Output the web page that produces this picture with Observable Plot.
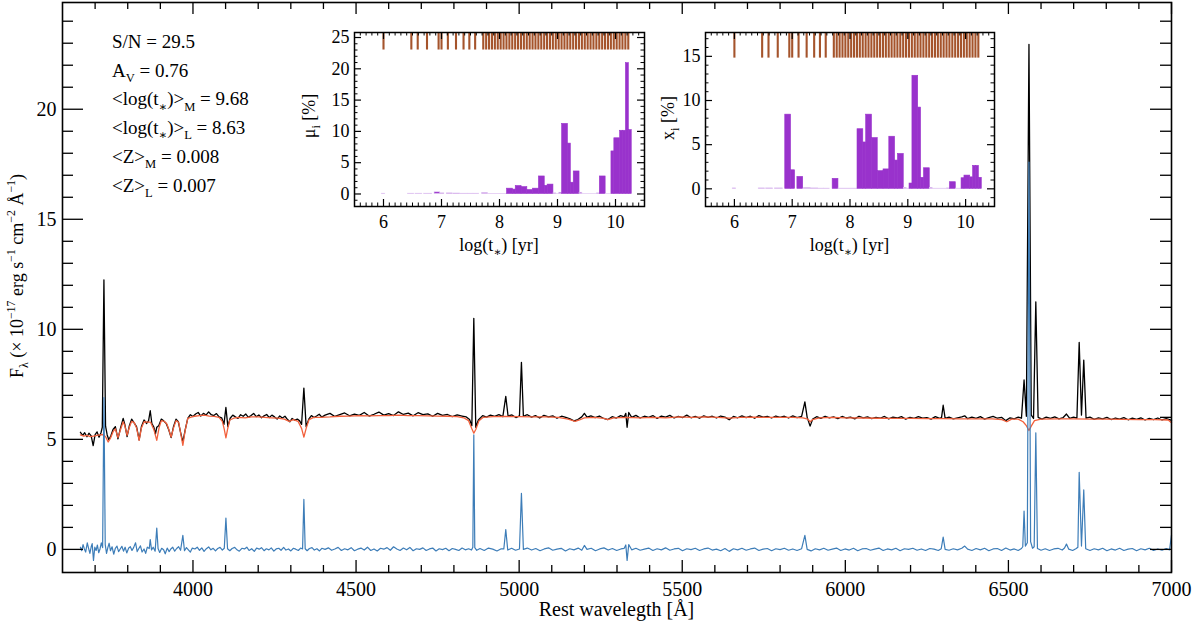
<!DOCTYPE html>
<html>
<head>
<meta charset="utf-8">
<script src="https://cdn.jsdelivr.net/npm/d3@7"></script>
<script src="https://cdn.jsdelivr.net/npm/@observablehq/plot@0.6"></script>
<style>
  body { margin: 0; background: #fff; }
  #chart { position: relative; width: 1200px; height: 625px; }
  #chart svg { position: absolute; overflow: visible; }
</style>
</head>
<body>
<div id="chart"></div>
<script>
// observed spectrum [wavelength (A), flux]
const observed = [
  [3655,5.32],[3662,5.18],[3668,5.30],[3675,5.12],[3681,5.28],[3688,5.16],[3694,4.72],[3700,5.22],[3706,5.34],[3712,5.10],
  [3718,5.30],[3722,5.55],[3727,12.25],[3732,5.60],[3737,5.20],[3742,4.98],[3748,5.15],[3755,5.45],[3762,5.58],[3770,5.02],
  [3778,5.52],[3786,5.95],[3791,5.68],[3798,5.12],[3805,5.62],[3812,5.92],[3820,5.74],[3827,5.58],[3835,4.98],[3842,5.58],
  [3850,5.88],[3858,5.72],[3864,5.85],[3869,6.30],[3874,5.72],[3880,5.56],[3885,5.25],[3889,5.55],[3895,5.62],[3903,5.92],
  [3910,5.84],[3918,5.72],[3926,5.42],[3933,5.08],[3940,5.56],[3948,5.92],[3955,5.80],[3962,5.32],[3969,4.88],[3976,5.42],
  [3984,5.95],[3992,6.12],[4000,6.04],[4008,6.15],[4016,6.22],[4024,6.06],[4032,6.18],[4040,6.10],[4048,6.25],[4056,6.12],
  [4064,6.08],[4072,6.17],[4080,6.02],[4088,5.98],[4095,5.68],[4101,6.45],[4107,5.58],[4114,5.96],[4122,6.10],[4130,6.02],
  [4138,5.95],[4146,6.12],[4154,6.05],[4162,6.15],[4170,6.00],[4178,6.08],[4186,6.18],[4194,6.03],[4202,6.11],[4210,5.98],
  [4218,6.07],[4226,6.13],[4234,5.99],[4242,6.10],[4250,6.02],[4258,5.92],[4266,6.06],[4274,5.97],[4282,6.05],[4290,5.90],
  [4297,5.80],[4304,5.95],[4312,5.87],[4320,5.92],[4327,5.84],[4333,5.68],[4340,7.33],[4347,5.58],[4355,5.92],[4363,6.08],
  [4371,5.99],[4379,6.06],[4387,6.14],[4395,6.01],
  [4405,6.10],[4420,6.18],[4435,6.04],[4450,6.12],[4465,6.20],[4480,6.07],[4495,6.15],[4510,6.09],[4525,6.22],[4540,6.06],
  [4555,6.14],[4570,6.24],[4585,6.10],[4600,6.17],[4615,6.08],[4630,6.25],[4645,6.13],[4660,6.19],[4675,6.07],[4690,6.21],
  [4705,6.12],[4720,6.16],[4735,6.05],[4750,6.18],[4765,6.09],[4780,6.13],[4795,6.03],[4810,6.11],[4825,6.06],[4838,6.02],
  [4848,5.90],[4855,5.62],[4861,10.5],[4867,5.55],[4875,5.88],[4888,6.08],[4900,6.01],[4912,6.10],[4925,6.04],[4938,6.12],
  [4950,6.03],[4959,6.95],[4966,6.06],[4978,6.11],[4990,5.99],[5001,6.07],[5007,8.50],[5013,6.05],[5025,6.12],[5038,6.01],
  [5050,6.08],[5063,5.97],[5076,6.09],[5090,6.02],[5103,6.07],[5116,5.96],[5130,6.05],[5143,6.00],[5156,5.93],[5168,5.84],
  [5180,5.90],[5192,6.02],[5200,6.18],[5208,6.01],[5220,6.07],[5233,5.99],[5246,6.06],[5259,5.95],[5272,5.90],[5285,6.03],
  [5298,5.97],[5311,6.08],[5322,6.02],[5327,6.18],[5331,5.55],[5336,6.22],[5345,6.00],[5358,6.09],[5371,5.97],[5384,6.05],
  [5397,6.00],[5410,6.08],[5423,5.95],[5436,6.06],[5449,6.01],[5462,6.09],[5475,5.97],[5488,6.04],[5501,5.99],[5514,6.10],
  [5527,5.98],[5540,6.04],[5553,5.96],[5566,6.07],[5579,6.00],[5592,6.05],[5605,5.97],[5618,6.06],[5631,6.01],[5644,5.89],
  [5657,6.04],[5670,5.98],[5683,6.07],[5696,5.99],[5709,6.05],[5722,5.96],[5735,6.08],[5748,6.01],[5761,6.04],[5774,5.97],
  [5787,6.06],[5800,6.00],[5813,6.05],[5826,5.97],[5839,6.07],[5852,5.99],[5866,6.04],[5876,6.70],[5883,6.00],[5892,5.60],
  [5900,5.92],[5912,6.03],[5925,5.95],[5938,6.05],[5951,5.98],[5964,6.02],[5977,5.94],[5990,6.04],[6003,5.97],[6016,6.01],
  [6029,5.93],[6042,6.05],[6055,5.98],[6068,6.02],[6081,5.94],[6094,6.00],[6107,5.96],[6120,6.04],[6133,5.93],[6146,6.01],
  [6159,5.97],[6172,6.03],[6185,5.92],[6198,6.00],[6211,5.95],[6224,6.03],[6237,5.96],[6250,5.99],[6263,5.92],[6276,6.03],
  [6289,5.95],[6295,5.99],[6300,6.55],[6306,5.95],[6318,6.01],[6331,5.93],[6344,5.98],[6357,6.02],[6366,6.07],[6375,5.94],
  [6388,6.01],[6401,5.95],[6414,6.03],[6427,5.92],[6440,5.99],[6453,6.04],[6466,5.96],[6479,6.00],[6492,5.85],[6505,5.98],
  [6518,5.93],[6530,6.01],[6540,5.96],[6548,7.70],[6555,6.05],[6563,22.95],[6570,6.10],[6577,5.95],[6584,11.25],[6591,6.00],
  [6603,5.92],[6616,6.01],[6629,5.95],[6642,6.02],[6655,5.93],[6668,5.99],[6678,6.15],[6688,5.95],[6700,6.01],[6710,5.97],
  [6717,9.40],[6724,6.10],[6731,8.60],[6738,5.96],[6750,6.01],[6763,5.91],[6776,5.98],[6789,5.93],[6802,6.00],[6815,5.90],
  [6828,5.97],[6841,5.92],[6854,5.99],[6867,5.89],[6880,5.96],[6893,5.91],[6906,5.98],[6919,5.88],[6932,5.95],[6945,5.90],
  [6958,5.97],[6971,5.88],[6984,5.94],[6994,5.90],[7000,5.86]
];

// synthetic (model) spectrum
const model = [
  [3655,5.20],[3665,5.15],[3675,5.18],[3685,5.12],[3695,5.15],[3705,5.18],[3715,5.20],[3725,5.22],[3733,5.10],[3740,4.88],
  [3747,5.05],[3755,5.35],[3762,5.48],[3770,5.08],[3778,5.45],[3786,5.80],[3791,5.62],[3798,5.18],[3805,5.55],[3812,5.82],
  [3820,5.76],[3827,5.52],[3835,4.95],[3842,5.52],[3850,5.80],[3860,5.78],[3870,5.78],[3880,5.45],[3889,4.95],[3896,5.52],
  [3903,5.85],[3912,5.82],[3920,5.70],[3927,5.40],[3933,5.10],[3940,5.50],[3948,5.85],[3956,5.78],[3962,5.30],[3969,4.73],
  [3976,5.40],[3984,5.95],[3992,6.00],[4005,6.05],[4020,6.08],[4035,6.10],[4050,6.06],[4065,6.04],[4080,6.00],[4090,5.82],
  [4096,5.45],[4101,5.07],[4106,5.45],[4113,5.88],[4125,5.96],[4140,6.00],[4160,5.98],[4180,6.02],[4200,6.02],[4220,6.00],
  [4240,5.98],[4260,5.96],[4280,5.92],[4295,5.82],[4308,5.90],[4322,5.82],[4333,5.50],[4340,5.10],[4347,5.50],[4356,5.90],
  [4370,6.00],[4390,6.00],[4420,6.02],[4450,6.05],[4480,6.06],[4510,6.08],[4540,6.07],[4570,6.08],[4600,6.08],[4630,6.10],
  [4660,6.08],[4690,6.08],[4720,6.07],[4750,6.06],[4780,6.05],[4810,6.03],[4830,5.98],[4845,5.85],[4855,5.48],[4861,5.28],
  [4867,5.45],[4877,5.85],[4890,6.00],[4920,6.03],[4960,6.04],[5000,6.03],[5040,6.02],[5080,6.02],[5120,6.00],[5150,5.92],
  [5172,5.82],[5185,5.88],[5200,5.98],[5230,6.00],[5260,5.95],[5272,5.90],[5290,5.98],[5330,6.00],[5370,5.98],[5410,6.00],
  [5450,5.98],[5490,6.02],[5530,6.00],[5570,6.02],[5610,6.00],[5645,5.96],[5680,6.00],[5720,6.01],[5760,6.00],[5800,6.00],
  [5840,6.00],[5870,5.98],[5885,5.92],[5892,5.80],[5900,5.90],[5920,5.98],[5960,6.00],[6000,5.98],[6050,5.97],[6100,5.96],
  [6150,5.95],[6200,5.95],[6250,5.94],[6300,5.94],[6350,5.93],[6400,5.93],[6450,5.93],[6480,5.90],[6495,5.80],[6510,5.92],
  [6530,5.92],[6545,5.80],[6555,5.62],[6563,5.40],[6570,5.60],[6580,5.85],[6600,5.92],[6650,5.93],[6700,5.93],[6750,5.92],
  [6800,5.92],[6850,5.91],[6900,5.90],[6950,5.90],[6990,5.88],[7000,5.75]
];

// observed minus model (pure emission)
const emission = [
  [3655,0.10],[3659,-0.06],[3663,0.22],[3667,0.02],[3671,-0.12],[3676,0.30],[3680,0.05],[3684,-0.18],[3688,0.12],[3691,0.26],
  [3695,-0.50],[3699,0.10],[3703,-0.05],[3707,0.20],[3711,-0.15],[3715,0.02],[3719,0.30],[3723,0.08],[3727,6.90],[3731,0.22],
  [3735,-0.18],[3739,0.08],[3743,0.28],[3747,-0.06],[3752,0.12],[3757,-0.22],[3762,0.05],[3767,0.15],[3772,-0.10],[3777,0.02],
  [3782,0.14],[3787,-0.08],[3792,0.10],[3797,-0.16],[3803,0.06],[3808,0.12],[3813,-0.05],[3818,0.08],[3824,0.30],[3829,-0.10],
  [3834,0.04],[3839,0.16],[3844,-0.12],[3850,0.02],[3855,-0.18],[3860,0.10],[3866,0.04],[3869,0.45],[3873,-0.02],[3878,0.10],
  [3884,-0.08],[3889,0.97],[3893,0.04],[3898,-0.14],[3904,0.05],[3910,-0.02],[3915,-0.20],[3921,0.06],[3927,-0.10],[3932,0.02],
  [3938,0.10],[3944,-0.08],[3950,0.04],[3956,0.12],[3962,-0.04],[3969,0.64],[3974,-0.06],[3980,0.08],[3986,-0.02],[3992,-0.12],
  [3998,0.06],[4006,0.02],[4013,0.10],[4020,-0.04],[4027,0.07],[4034,-0.09],[4041,0.03],[4048,0.11],[4055,-0.02],[4062,0.05],
  [4069,-0.07],[4076,0.04],[4083,0.09],[4090,-0.03],[4096,0.05],[4101,1.42],[4106,0.03],[4113,-0.06],[4120,0.04],[4128,0.09],
  [4135,-0.02],[4142,-0.08],[4150,0.05],[4158,0.02],[4165,0.10],[4172,-0.05],[4180,0.03],[4188,-0.09],[4195,0.06],[4203,0.01],
  [4210,0.08],[4218,-0.06],[4225,0.03],[4233,-0.02],[4240,0.07],[4248,-0.08],[4255,0.02],[4263,0.05],[4270,-0.04],[4278,0.09],
  [4285,-0.03],[4293,0.02],[4300,-0.07],[4308,0.05],[4315,0.01],[4323,-0.05],[4330,0.06],[4336,0.02],[4340,2.27],[4344,0.03],
  [4350,-0.06],[4357,0.04],[4365,0.08],[4372,-0.03],[4380,0.03],[4388,-0.07],[4395,0.05],
  [4405,0.00],[4415,0.07],[4425,-0.04],[4435,0.02],[4445,0.09],[4455,-0.05],[4465,0.03],[4475,-0.02],[4485,0.08],[4495,-0.06],
  [4505,0.01],[4515,0.06],[4525,-0.03],[4535,0.10],[4545,-0.05],[4555,0.02],[4565,-0.07],[4575,0.05],[4585,0.01],[4595,0.08],
  [4605,-0.04],[4615,0.12],[4625,0.02],[4635,-0.05],[4645,0.06],[4655,-0.02],[4665,0.09],[4675,-0.06],[4685,0.03],[4695,0.00],
  [4705,0.07],[4715,-0.05],[4725,0.02],[4735,0.06],[4745,-0.07],[4755,0.03],[4765,-0.01],[4775,0.05],[4785,-0.06],[4795,0.04],
  [4805,0.00],[4815,-0.05],[4825,0.06],[4835,-0.02],[4845,0.03],[4854,-0.03],[4858,0.10],[4861,5.20],[4864,0.08],[4870,-0.04],
  [4880,0.04],[4893,-0.05],[4906,0.06],[4919,0.01],[4932,-0.07],[4945,0.03],[4953,0.02],[4959,0.90],[4965,-0.03],[4977,0.05],
  [4989,-0.04],[5001,0.02],[5007,2.55],[5013,0.00],[5025,0.06],[5038,-0.03],[5051,0.04],[5064,-0.06],[5077,0.02],[5090,0.07],
  [5103,-0.04],[5116,0.01],[5129,0.05],[5142,-0.07],[5155,0.03],[5168,-0.02],[5181,0.06],[5192,-0.04],[5200,0.18],[5208,0.00],
  [5221,0.05],[5234,-0.06],[5247,0.02],[5260,0.07],[5273,-0.03],[5286,0.04],[5299,-0.05],[5312,0.02],[5322,0.05],[5327,0.20],
  [5331,-0.50],[5336,0.22],[5345,-0.02],[5358,0.05],[5371,-0.04],[5384,0.01],[5397,0.06],[5410,-0.05],[5423,0.03],[5436,-0.02],
  [5449,0.07],[5462,-0.04],[5475,0.02],[5488,0.05],[5501,-0.06],[5514,0.03],[5527,-0.01],[5540,0.05],[5553,-0.05],[5566,0.02],
  [5579,0.06],[5592,-0.03],[5605,0.01],[5618,-0.06],[5631,0.04],[5644,-0.09],[5657,0.03],[5670,-0.02],[5683,0.05],[5696,-0.04],
  [5709,0.02],[5722,0.06],[5735,-0.05],[5748,0.01],[5761,0.04],[5774,-0.06],[5787,0.03],[5800,-0.01],[5813,0.05],[5826,-0.04],
  [5839,0.02],[5852,-0.05],[5866,0.03],[5876,0.64],[5883,0.00],[5895,-0.07],[5908,0.03],[5921,-0.02],[5934,0.05],[5947,-0.04],
  [5960,0.01],[5973,0.06],[5986,-0.05],[5999,0.02],[6012,-0.03],[6025,0.05],[6038,-0.06],[6051,0.02],[6064,0.04],[6077,-0.04],
  [6090,0.01],[6103,0.06],[6116,-0.05],[6129,0.02],[6142,-0.02],[6155,0.05],[6168,-0.06],[6181,0.03],[6194,0.00],[6207,0.05],
  [6220,-0.04],[6233,0.02],[6246,-0.05],[6259,0.04],[6272,0.01],[6285,-0.05],[6294,0.03],[6300,0.56],[6306,0.00],[6318,-0.04],
  [6331,0.03],[6344,-0.02],[6357,0.05],[6366,0.15],[6375,0.01],[6388,-0.05],[6401,0.04],[6414,-0.02],[6427,0.05],[6440,-0.06],
  [6453,0.02],[6466,0.04],[6479,-0.05],[6492,0.06],[6505,-0.03],[6518,0.02],[6530,-0.05],[6540,0.04],[6544,0.12],[6548,1.74],
  [6552,0.15],[6558,0.30],[6563,17.6],[6568,0.35],[6574,0.05],[6579,0.12],[6584,5.30],[6589,0.04],[6600,-0.04],[6613,0.03],
  [6626,-0.05],[6639,0.02],[6652,0.05],[6665,-0.03],[6672,0.06],[6678,0.24],[6685,0.01],[6697,-0.05],[6708,0.04],[6713,0.10],
  [6717,3.50],[6724,0.15],[6731,2.70],[6737,0.03],[6750,-0.05],[6763,0.03],[6776,-0.02],[6789,0.05],[6802,-0.06],[6815,0.02],
  [6828,-0.03],[6841,0.05],[6854,-0.05],[6867,0.01],[6880,0.04],[6893,-0.06],[6906,0.03],[6919,-0.02],[6932,0.05],[6945,-0.05],
  [6958,0.02],[6971,-0.04],[6984,0.04],[6994,-0.02],[7000,0.65]
];

// ages of the base populations, log(t) [yr]
const baseAges = [
  6.00, 6.48, 6.59, 6.75, 6.95, 7.00, 7.11, 7.25, 7.38, 7.48, 7.58,
  7.72, 7.77, 7.82, 7.87, 7.92, 7.97, 8.02, 8.07, 8.12, 8.17, 8.22, 8.27, 8.32, 8.37, 8.42, 8.47, 8.52,
  8.57, 8.62, 8.67, 8.72, 8.77, 8.82, 8.87, 8.92, 8.97, 9.02, 9.07, 9.12, 9.17, 9.22, 9.27, 9.32, 9.37,
  9.42, 9.47, 9.52, 9.57, 9.62, 9.67, 9.72, 9.77, 9.82, 9.87, 9.92, 9.97, 10.02, 10.07, 10.12, 10.17, 10.22
];

// age bins of the population histograms
const binLo = [5.97, 6.42, 6.55, 6.70, 6.88, 6.98, 7.09, 7.20, 7.32, 7.45, 7.55, 7.70, 7.80, 8.13, 8.23, 8.28, 8.38, 8.48, 8.58, 8.68,
               8.78, 8.83, 8.93, 8.98, 9.03, 9.08, 9.18, 9.23, 9.28, 9.38, 9.43, 9.68, 9.73, 9.83, 9.93, 9.98, 10.08, 10.13, 10.18, 10.23];
const binHi = [6.03, 6.53, 6.67, 6.84, 6.98, 7.05, 7.19, 7.32, 7.45, 7.55, 7.65, 7.80, 8.13, 8.23, 8.28, 8.38, 8.48, 8.58, 8.68, 8.78,
               8.83, 8.93, 8.98, 9.03, 9.08, 9.18, 9.23, 9.28, 9.38, 9.43, 9.68, 9.73, 9.83, 9.93, 9.98, 10.08, 10.13, 10.18, 10.23, 10.28];
// mass fractions mu_i [%]
const muPct = [0.05, 0.05, 0.05, 0.05, 0.27, 0.10, 0.10, 0.08, 0.05, 0.05, 0.05, 0.15, 0.03, 0.85, 0.70, 1.27, 1.10, 0.63, 0.85, 2.80,
               1.30, 1.50, 0.10, 0.02, 0.20, 11.2, 8.05, 1.80, 3.60, 0.20, 0.02, 0.10, 2.80, 0.02, 6.80, 8.90, 10.1, 10.1, 20.9, 10.2];
// light fractions x_i [%]
const xPct = [0.05, 0.05, 0.05, 0.05, 8.40, 2.10, 1.35, 0.08, 0.05, 0.03, 0.03, 1.13, 0.03, 6.75, 5.25, 8.40, 5.75, 2.00, 2.20, 5.90,
              3.20, 3.95, 0.10, 0.02, 0.60, 12.8, 9.20, 1.25, 2.33, 0.10, 0.02, 0.05, 0.75, 0.02, 1.20, 1.50, 1.30, 2.60, 2.60, 1.25];

const xMajor = [4000, 4500, 5000, 5500, 6000, 6500, 7000];
const yMajor = [0, 5, 10, 15, 20];
const ageTicks = [6, 7, 8, 9, 10];

const serif = "'Liberation Serif', 'DejaVu Serif', serif";

// text with sub/superscripts as tspans
function rich(sel, parts, size) {
  let shift = 0;
  for (const [s, k] of parts) {
    const off = k === "sup" ? -0.42 * size : k === "sub" ? 0.28 * size : 0;
    sel.append("tspan").attr("dy", off - shift).attr("font-size", k ? size * 0.66 : size).text(s);
    shift = off;
  }
  return sel;
}

const W = 1200, H = 625, mL = 62, mR = 29, mT = 2, mB = 53;
const iW = W - mL - mR, iH = H - mT - mB;
const xMinor = d3.range(3700, 7000, 100).filter(v => v % 500);
const yMinor = d3.range(1, 25).filter(v => v % 5);

const main = Plot.plot({
  width: W, height: H, marginLeft: mL, marginRight: mR, marginTop: mT, marginBottom: mB,
  style: {fontFamily: serif, background: "transparent"},
  x: {domain: [3600, 7000]},
  y: {domain: [-1.05, 24.85]},
  marks: [
    Plot.line(observed, {x: d => d[0], y: d => d[1], stroke: "#000", strokeWidth: 1.3}),
    Plot.line(model, {x: d => d[0], y: d => d[1], stroke: "#f2603c", strokeWidth: 1.3}),
    Plot.line(emission, {x: d => d[0], y: d => d[1], stroke: "#3d7db8", strokeWidth: 1.2}),
    Plot.ruleX(xMajor, {insetTop: iH - 12, strokeWidth: 1.3}),
    Plot.ruleX(xMinor, {insetTop: iH - 7, strokeWidth: 1.3}),
    Plot.ruleX(xMajor, {insetBottom: iH - 12, strokeWidth: 1.3}),
    Plot.ruleX(xMinor, {insetBottom: iH - 7, strokeWidth: 1.3}),
    Plot.ruleY(yMajor, {insetRight: iW - 21, strokeWidth: 1.3}),
    Plot.ruleY(yMinor, {insetRight: iW - 11, strokeWidth: 1.3}),
    Plot.ruleY(yMajor, {insetLeft: iW - 21, strokeWidth: 1.3}),
    Plot.ruleY(yMinor, {insetLeft: iW - 11, strokeWidth: 1.3}),
    Plot.axisX({ticks: xMajor, tickSize: 0, tickPadding: 9, tickFormat: "d", fontSize: 20, label: null}),
    Plot.axisY({ticks: yMajor, tickSize: 0, tickPadding: 6, fontSize: 20, label: null}),
    Plot.frame({strokeWidth: 1.6})
  ]
});
main.style.left = "0px";
main.style.top = "0px";
document.getElementById("chart").append(main);

const ms = d3.select(main);
const ylab = ms.append("text").attr("transform", "translate(23,276) rotate(-90)")
  .attr("text-anchor", "middle").attr("font-family", serif).attr("font-size", 18);
rich(ylab, [["F"], ["λ", "sub"], [" (× 10"], ["−17", "sup"], [" erg s"], ["−1", "sup"], [" cm"], ["−2", "sup"], [" Å"], ["−1", "sup"], [")"]], 18);

ms.append("text").attr("x", mL + iW / 2).attr("y", 616).attr("text-anchor", "middle")
  .attr("font-family", serif).attr("font-size", 20).text("Rest wavelegth [Å]");

const notes = [
  [["S/N = 29.5"]],
  [["A"], ["V", "sub"], [" = 0.76"]],
  [["<log(t"], ["∗", "sub"], [")>"], ["M", "sub"], [" = 9.68"]],
  [["<log(t"], ["∗", "sub"], [")>"], ["L", "sub"], [" = 8.63"]],
  [["<Z>"], ["M", "sub"], [" = 0.008"]],
  [["<Z>"], ["L", "sub"], [" = 0.007"]]
];
notes.forEach((parts, i) => {
  const t = ms.append("text").attr("x", 112).attr("y", 48 + i * 28.7).attr("text-anchor", "start")
    .attr("font-family", serif).attr("font-size", 19);
  rich(t, parts, 19);
});

// inset histograms
function inset(o) {
  const h = 240, top = 12, bottom = 54, right = 16;
  const iw = o.width - o.left - right, ih = h - top - bottom;
  const rows = binLo.map((lo, i) => ({lo, hi: binHi[i], v: o.values[i]}));
  const yMin = d3.range(-1, Math.floor(o.yDomain[1]) + 1).filter(v => v % 5);
  const xMin = d3.range(56, 105).map(v => v / 10).filter(v => v % 1);
  const svg = Plot.plot({
    width: o.width, height: h, marginLeft: o.left, marginRight: right, marginTop: top, marginBottom: bottom,
    style: {fontFamily: serif, background: "transparent"},
    x: {domain: [5.5, 10.5]},
    y: {domain: o.yDomain},
    marks: [
      Plot.rect(rows, {x1: "lo", x2: "hi", y1: 0, y2: "v", fill: "#9932cc",
                       stroke: d => d.v > 0.5 ? "#9932cc" : "#e4d0f4", strokeWidth: 0.6}),
      Plot.ruleX(baseAges, {y1: o.tagFrom, y2: o.yDomain[1], stroke: "#a5542c", strokeWidth: 2.1}),
      Plot.ruleX(ageTicks, {insetTop: ih - 7, strokeWidth: 1.2}),
      Plot.ruleX(xMin, {insetTop: ih - 3.5, strokeWidth: 1}),
      Plot.ruleX(ageTicks, {insetBottom: ih - 7, strokeWidth: 1.2}),
      Plot.ruleX(xMin, {insetBottom: ih - 3.5, strokeWidth: 1}),
      Plot.ruleY(o.yMajor, {insetRight: iw - 7, strokeWidth: 1.2}),
      Plot.ruleY(yMin, {insetRight: iw - 3.5, strokeWidth: 1}),
      Plot.ruleY(o.yMajor, {insetLeft: iw - 7, strokeWidth: 1.2}),
      Plot.ruleY(yMin, {insetLeft: iw - 3.5, strokeWidth: 1}),
      Plot.axisX({ticks: ageTicks, tickSize: 0, tickPadding: 9, tickFormat: "d", fontSize: 18, label: null}),
      Plot.axisY({ticks: o.yMajor, tickSize: 0, tickPadding: 5, tickFormat: "d", fontSize: 18, label: null}),
      Plot.frame({strokeWidth: 1.5})
    ]
  });
  svg.style.left = o.x + "px";
  svg.style.top = "20px";
  document.getElementById("chart").append(svg);
  const s = d3.select(svg);
  const xl = s.append("text").attr("x", o.left + iw / 2).attr("y", 231).attr("text-anchor", "middle")
    .attr("font-family", serif).attr("font-size", 18);
  rich(xl, [["log(t"], ["∗", "sub"], [") [yr]"]], 18);
  const yl = s.append("text").attr("transform", `translate(${o.labelX},${o.labelY}) rotate(-90)`)
    .attr("text-anchor", "middle").attr("font-family", serif).attr("font-size", 18);
  rich(yl, [[o.sym], ["i", "sub"], [" [%]"]], 18);
}

inset({x: 300, width: 360, left: 54, values: muPct, yDomain: [-2, 25.8], yMajor: [0, 5, 10, 15, 20, 25],
       tagFrom: 23, sym: "μ", labelX: 15, labelY: 96});
inset({x: 660, width: 350, left: 45, values: xPct, yDomain: [-2, 17.7], yMajor: [0, 5, 10, 15],
       tagFrom: 14.8, sym: "x", labelX: 14, labelY: 98});
</script>
</body>
</html>
